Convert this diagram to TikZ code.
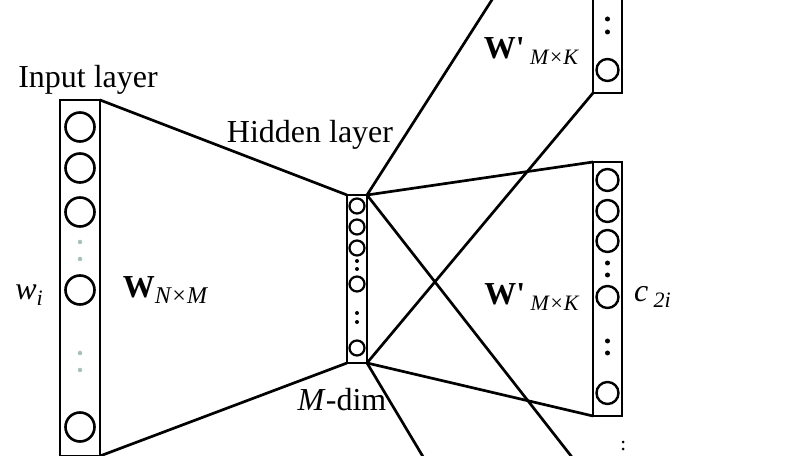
\documentclass[tikz,border=0pt]{standalone}
\usepackage{fontspec}
\setmainfont{Liberation Serif}
\usepackage{tikz}
\usetikzlibrary{automata, positioning}
\usetikzlibrary{arrows}

\definecolor{dotgray}{RGB}{165,192,186}
\newcommand{\lowsub}[2][22pt]{\raisebox{-0.45ex}{\fontsize{#1}{#1}\selectfont\itshape #2}}

\begin{document}
\begin{tikzpicture}[x=1pt,y=1pt,line width=2.7pt,node distance=42pt]
\tikzstyle{every state}=[fill=none,draw=black,text=black,line width=2.6pt,inner sep=0pt,minimum size=29pt]
\tikzset{font=\fontsize{32pt}{38pt}\selectfont}
\tikzset{layer/.style={draw,line width=2.7pt,inner sep=0pt,outer sep=0pt},
         small state/.style={state,line width=2.2pt,minimum size=15pt},
         mid state/.style={state,line width=2.4pt,minimum size=22pt},
         vdot/.style={circle,fill=black,draw=none,inner sep=0pt,minimum size=5pt}}

\path[use as bounding box, clip] (0,0) rectangle (808,455);

        % input layer
        \node[layer,minimum width=40pt,minimum height=356pt]   (in)   at (80,177) {};
        \node[state]                          (i1)   at (80,328) {};
        \node[state]                          (i2)   [below of=i1, node distance=41pt] {};
        \node[state]                          (i3)   [below of=i2, node distance=44pt] {};
        \node[vdot, fill=dotgray, minimum size=4.5pt] (id1) [below of=i3, node distance=30pt] {};
        \node[vdot, fill=dotgray, minimum size=4.5pt] (id2) [below of=id1, node distance=17pt] {};
        \node[state]                          (i4)   [below of=i3, node distance=78pt] {};
        \node[vdot, fill=dotgray, minimum size=4.5pt] (id3) [below of=i4, node distance=63pt] {};
        \node[vdot, fill=dotgray, minimum size=4.5pt] (id4) [below of=id3, node distance=17pt] {};
        \node[state]                          (i5)   [below of=i4, node distance=137pt] {};

        % hidden layer
        \node[layer,minimum width=20pt,minimum height=168pt]   (hid)  at (357,176) {};
        \node[small state]                    (h1)   at (357,249) {};
        \node[small state]                    (h2)   [below of=h1, node distance=21pt] {};
        \node[small state]                    (h3)   [below of=h2, node distance=21pt] {};
        \node[vdot, minimum size=4pt]         (hd1)  [below of=h3, node distance=13pt] {};
        \node[vdot, minimum size=4pt]         (hd2)  [below of=hd1, node distance=8pt] {};
        \node[small state]                    (h4)   [below of=h3, node distance=36pt] {};
        \node[vdot, minimum size=4pt]         (hd3)  [below of=h4, node distance=29pt] {};
        \node[vdot, minimum size=4pt]         (hd4)  [below of=hd3, node distance=9pt] {};
        \node[small state]                    (h5)   [below of=h4, node distance=64pt] {};

        % output layers
        \node[layer,minimum width=29pt,minimum height=251pt]   (out1) at (607.5,487.5) {};
        \node[mid state]                      (o1a)  at (607.5,385) {};
        \node[vdot]                           (od1)  [above of=o1a, node distance=38pt] {};
        \node[vdot]                           (od2)  [above of=od1, node distance=13pt] {};

        \node[layer,minimum width=29pt,minimum height=254pt]   (out2) at (607.5,166) {};
        \node[mid state]                      (o2a)  at (607.5,275) {};
        \node[mid state]                      (o2b)  [below of=o2a, node distance=31pt] {};
        \node[mid state]                      (o2c)  [below of=o2b, node distance=30pt] {};
        \node[vdot]                           (od3)  [below of=o2c, node distance=22pt] {};
        \node[vdot]                           (od4)  [below of=od3, node distance=12pt] {};
        \node[mid state]                      (o2d)  [below of=o2c, node distance=56pt] {};
        \node[vdot]                           (od5)  [below of=o2d, node distance=44pt] {};
        \node[vdot]                           (od6)  [below of=od5, node distance=12pt] {};
        \node[mid state]                      (o2e)  [below of=o2d, node distance=96pt] {};

        \node[layer,minimum width=29pt,minimum height=257pt]   (out3) at (607.5,-157.5) {};
        \node[vdot, minimum size=3pt]         (gap1) at (623,13) {};
        \node[vdot, minimum size=3pt]         (gap2) [below of=gap1, node distance=7pt] {};

        % labels
        \node (Lin)  at (88,375)  {Input layer};
        \node (Lhid) at (310,320) {Hidden layer};
        \node (Lw)   at (29,160)  {\textit{w}\lowsub{i}};
        \node (Wnm)  [right of=i4, node distance=85pt] {\textbf{W}\lowsub[24pt]{N×M}};
        \node (Mdim) at (342,55)  {\textit{M}-dim};
        \node (Wmk1) at (531,404) {\textbf{W\textquotesingle}\,\lowsub{M×K}};
        \node (Wmk2) [left of=o2d, node distance=76pt]  {\textbf{W\textquotesingle}\,\lowsub{M×K}};
        \node (c2i)  [right of=o2d, node distance=45pt] {\textit{c}\,\lowsub{2i}};

        \path
        (in.north east)   edge (hid.north west)
        (in.south east)   edge (hid.south west)
        (hid.north east)  edge (out1.north west)
        (hid.north east)  edge (out2.north west)
        (hid.north east)  edge (out3.north west)
        (hid.south east)  edge (out1.south west)
        (hid.south east)  edge (out2.south west)
        (hid.south east)  edge (out3.south west)
        ; %end path

\end{tikzpicture}
\end{document}
